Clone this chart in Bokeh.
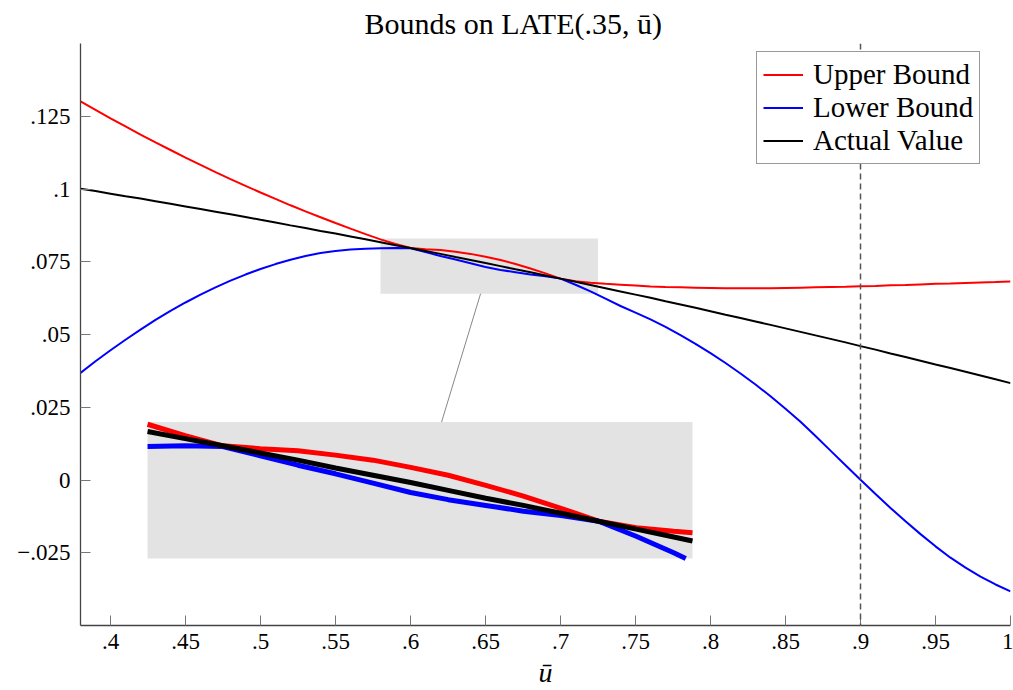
import numpy as np
from bokeh.plotting import figure
from bokeh.models import Range1d, FixedTicker, Span, Legend, LegendItem
from bokeh.embed import file_html
from bokeh.resources import INLINE

# ---------------- data ----------------
u_bar = [0.38, 0.39, 0.40, 0.41, 0.42, 0.43, 0.44, 0.45, 0.46, 0.47,
         0.48, 0.49, 0.50, 0.51, 0.52, 0.53, 0.54, 0.55, 0.56, 0.57,
         0.58, 0.59, 0.60, 0.61, 0.62, 0.63, 0.64, 0.65, 0.66, 0.67,
         0.68, 0.69, 0.70, 0.71, 0.72, 0.73, 0.74, 0.75, 0.76, 0.77,
         0.78, 0.79, 0.80, 0.81, 0.82, 0.83, 0.84, 0.85, 0.86, 0.87,
         0.88, 0.89, 0.90, 0.91, 0.92, 0.93, 0.94, 0.95, 0.96, 0.97,
         0.98, 0.99, 1.00]

upper_bound = [0.1301, 0.1272, 0.1243, 0.1215, 0.1187, 0.1160, 0.1134, 0.1108, 0.1083, 0.1058,
               0.1034, 0.1011, 0.0988, 0.0966, 0.0944, 0.0923, 0.0903, 0.0883, 0.0864, 0.0845,
               0.0827, 0.0811, 0.0797, 0.0793, 0.0790, 0.0784, 0.0777, 0.0767, 0.0756, 0.0742,
               0.0727, 0.0710, 0.0692, 0.0683, 0.0678, 0.0674, 0.0671, 0.0668, 0.0665, 0.0663,
               0.0662, 0.0661, 0.0660, 0.0659, 0.0659, 0.0659, 0.0659, 0.0660, 0.0661, 0.0662,
               0.0663, 0.0664, 0.0666, 0.0667, 0.0669, 0.0670, 0.0672, 0.0674, 0.0675, 0.0677,
               0.0679, 0.0680, 0.0682]

lower_bound = [0.0368, 0.0408, 0.0446, 0.0482, 0.0517, 0.0550, 0.0581, 0.0610, 0.0637, 0.0662,
               0.0685, 0.0706, 0.0725, 0.0742, 0.0757, 0.0770, 0.0780, 0.0787, 0.0792, 0.0795,
               0.0796, 0.0797, 0.0796, 0.0783, 0.0770, 0.0758, 0.0745, 0.0732, 0.0722, 0.0714,
               0.0706, 0.0700, 0.0692, 0.0671, 0.0648, 0.0623, 0.0598, 0.0575, 0.0552, 0.0526,
               0.0498, 0.0468, 0.0436, 0.0402, 0.0366, 0.0328, 0.0288, 0.0245, 0.0200, 0.0151,
               0.0101, 0.0051, 0.0001, -0.0048, -0.0096, -0.0142, -0.0186, -0.0228, -0.0267, -0.0301,
               -0.0332, -0.0359, -0.0383]

actual_value = [0.1001, 0.0993, 0.0984, 0.0975, 0.0967, 0.0958, 0.0949, 0.0940, 0.0931, 0.0922,
                0.0913, 0.0904, 0.0894, 0.0885, 0.0875, 0.0866, 0.0856, 0.0847, 0.0837, 0.0827,
                0.0817, 0.0807, 0.0797, 0.0787, 0.0777, 0.0766, 0.0756, 0.0746, 0.0735, 0.0724,
                0.0714, 0.0703, 0.0692, 0.0681, 0.0670, 0.0659, 0.0648, 0.0637, 0.0626, 0.0614,
                0.0603, 0.0592, 0.0580, 0.0568, 0.0557, 0.0545, 0.0533, 0.0521, 0.0509, 0.0497,
                0.0485, 0.0473, 0.0460, 0.0448, 0.0435, 0.0423, 0.0410, 0.0397, 0.0385, 0.0372,
                0.0359, 0.0346, 0.0333]

series_names = ["Upper Bound", "Lower Bound", "Actual Value"]
series_colors = ["#ff0000", "#0000ff", "#000000"]

x_ticks = [0.40, 0.45, 0.50, 0.55, 0.60, 0.65, 0.70, 0.75, 0.80, 0.85, 0.90, 0.95, 1.00]
x_tick_labels = [".4", ".45", ".5", ".55", ".6", ".65", ".7", ".75", ".8", ".85", ".9", ".95", "1"]
y_ticks = [-0.025, 0.0, 0.025, 0.05, 0.075, 0.1, 0.125]
y_tick_labels = ["\u2212.025", "0", ".025", ".05", ".075", ".1", ".125"]

vline_at = 0.9

# zoom window (data) and where the magnified copy sits (main-axis coordinates)
ZOOM_X = (0.58, 0.725)
ZOOM_Y = (0.064, 0.083)
INSET_X = (0.4247, 0.788)
INSET_Y = (-0.0270, 0.0199)
CONNECT_X = (0.6467, 0.6207)
CONNECT_Y = (0.064, 0.0199)

X_RANGE = (0.38, 1.0)
Y_RANGE = (-0.05, 0.15)

FONT = "Liberation Serif"

# ---------------- figure ----------------
p = figure(width=1013, height=690,
           x_range=Range1d(*X_RANGE), y_range=Range1d(*Y_RANGE),
           output_backend="svg", toolbar_location=None,
           min_border_left=80, min_border_right=3,
           min_border_top=43, min_border_bottom=64,
           title="Bounds on LATE(.35, \u016b)")

p.title.text_font = FONT
p.title.text_font_size = "30px"
p.title.text_font_style = "normal"
p.title.text_color = "black"
p.title.align = "left"
p.title.offset = 284
p.title.standoff = 7

p.xgrid.visible = False
p.ygrid.visible = False
p.outline_line_color = None
p.background_fill_color = "white"
p.border_fill_color = "white"

for ax in (p.xaxis[0], p.yaxis[0]):
    ax.axis_line_color = "#444444"
    ax.axis_line_width = 1.3
    ax.major_tick_line_color = "#777777"
    ax.major_tick_line_width = 1
    ax.major_tick_in = 10
    ax.major_tick_out = 0
    ax.minor_tick_line_color = None
    ax.major_label_text_font = FONT
    ax.major_label_text_font_size = "23px"
    ax.major_label_text_color = "black"

p.xaxis.ticker = FixedTicker(ticks=x_ticks)
p.xaxis.major_label_overrides = {t: l for t, l in zip(x_ticks, x_tick_labels)}
p.yaxis.ticker = FixedTicker(ticks=y_ticks)
p.yaxis.major_label_overrides = {t: l for t, l in zip(y_ticks, y_tick_labels)}
p.xaxis.major_label_standoff = 8
p.yaxis.major_label_standoff = 10
p.xaxis.axis_label = "\u016b"
p.xaxis.axis_label_text_font = FONT
p.xaxis.axis_label_text_font_style = "italic"
p.xaxis.axis_label_text_font_size = "28px"
p.xaxis.axis_label_text_color = "black"
p.xaxis.axis_label_standoff = 5

# inset ranges: map the zoom window onto the inset placement
sx = (ZOOM_X[1] - ZOOM_X[0]) / (INSET_X[1] - INSET_X[0])
sy = (ZOOM_Y[1] - ZOOM_Y[0]) / (INSET_Y[1] - INSET_Y[0])
p.extra_x_ranges = {"inset_x": Range1d(ZOOM_X[0] + (X_RANGE[0] - INSET_X[0]) * sx,
                                       ZOOM_X[0] + (X_RANGE[1] - INSET_X[0]) * sx)}
p.extra_y_ranges = {"inset_y": Range1d(ZOOM_Y[0] + (Y_RANGE[0] - INSET_Y[0]) * sy,
                                       ZOOM_Y[0] + (Y_RANGE[1] - INSET_Y[0]) * sy)}

GRAY = "#e3e3e3"
# zoom window in main plot
p.quad(left=[ZOOM_X[0]], right=[ZOOM_X[1]], bottom=[ZOOM_Y[0]], top=[ZOOM_Y[1]],
       fill_color=GRAY, line_color=None)
# magnified window
p.quad(left=[ZOOM_X[0]], right=[ZOOM_X[1]], bottom=[ZOOM_Y[0]], top=[ZOOM_Y[1]],
       fill_color=GRAY, line_color=None,
       x_range_name="inset_x", y_range_name="inset_y")
# connector
p.line(x=list(CONNECT_X), y=list(CONNECT_Y), line_color="#888888", line_width=1)

# dashed vertical line
p.add_layout(Span(location=vline_at, dimension="height", line_color="#555555",
                  line_width=1.5, line_dash="6 4"))


def clip_polyline(xs, ys, x0, x1, y0, y1):
    ox, oy = [], []
    for i in range(len(xs) - 1):
        ax_, ay_, bx_, by_ = xs[i], ys[i], xs[i + 1], ys[i + 1]
        dx, dy = bx_ - ax_, by_ - ay_
        t0, t1 = 0.0, 1.0
        ok = True
        for pp, qq in ((-dx, ax_ - x0), (dx, x1 - ax_), (-dy, ay_ - y0), (dy, y1 - ay_)):
            if pp == 0:
                if qq < 0:
                    ok = False
                    break
            else:
                t = qq / pp
                if pp < 0:
                    if t > t1:
                        ok = False
                        break
                    t0 = max(t0, t)
                else:
                    if t < t0:
                        ok = False
                        break
                    t1 = min(t1, t)
        if not ok:
            if ox and not np.isnan(ox[-1]):
                ox.append(np.nan)
                oy.append(np.nan)
            continue
        sx_, sy_ = ax_ + t0 * dx, ay_ + t0 * dy
        ex_, ey_ = ax_ + t1 * dx, ay_ + t1 * dy
        if not ox or np.isnan(ox[-1]) or abs(ox[-1] - sx_) > 1e-12 or abs(oy[-1] - sy_) > 1e-12:
            if ox and not np.isnan(ox[-1]):
                ox.append(np.nan)
                oy.append(np.nan)
            ox.append(sx_)
            oy.append(sy_)
        ox.append(ex_)
        oy.append(ey_)
    return ox, oy


all_series = [upper_bound, lower_bound, actual_value]
items = []
for name, color, ys in zip(series_names, series_colors, all_series):
    r = p.line(x=u_bar, y=ys, line_color=color, line_width=2)
    items.append(LegendItem(label=name, renderers=[r]))

for name, color, ys in zip(series_names, series_colors, all_series):
    cx, cy = clip_polyline(u_bar, ys, ZOOM_X[0], ZOOM_X[1], ZOOM_Y[0], ZOOM_Y[1])
    p.line(x=cx, y=cy, line_color=color, line_width=5,
           x_range_name="inset_x", y_range_name="inset_y")

legend = Legend(items=items, location=(676, 461))
legend.border_line_color = "#333333"
legend.border_line_width = 1
legend.background_fill_color = "white"
legend.background_fill_alpha = 1.0
legend.label_text_font = FONT
legend.label_text_font_size = "29px"
legend.label_text_color = "black"
legend.glyph_width = 40
legend.glyph_height = 31
legend.label_height = 31
legend.label_standoff = 10
legend.padding = 6
legend.spacing = 0
legend.margin = 0
p.add_layout(legend)

open("out.html", "w").write(file_html(p, INLINE))
